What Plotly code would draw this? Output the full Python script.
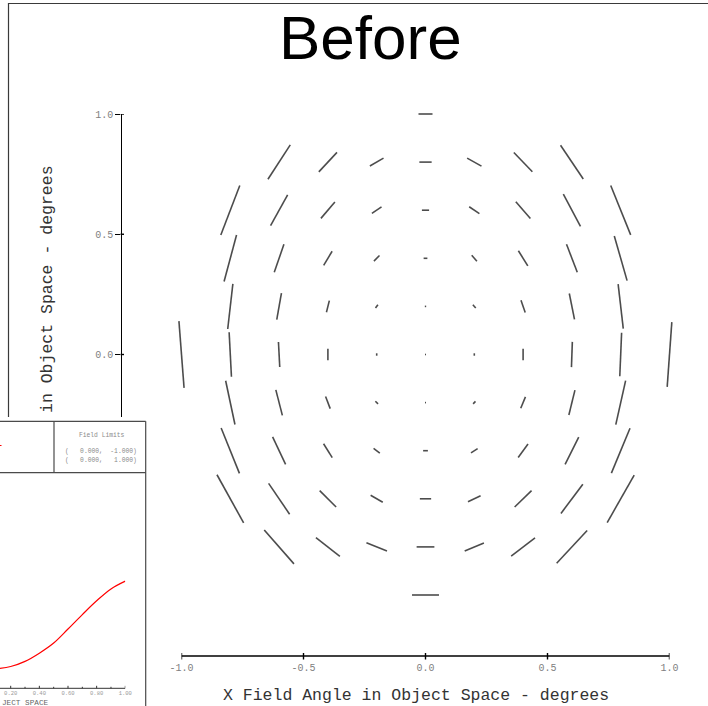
import plotly.graph_objects as go

W, H = 708, 706


def px(x):
    return x / W


def py(y):
    return 1 - y / H


# ---------------------------------------------------------------------------
# Field map: one line segment per field point (X, Y field angle in degrees).
# seg_len   : segment length in field degrees
# seg_angle : segment orientation, degrees counter-clockwise from +X
# ---------------------------------------------------------------------------
field_x = [
    0.0,                                                   # Y = 1.0
    -0.6, -0.4, -0.2, 0.0, 0.2, 0.4, 0.6,                  # Y = 0.8
    -0.8, -0.6, -0.4, -0.2, 0.0, 0.2, 0.4, 0.6, 0.8,       # Y = 0.6
    -0.8, -0.6, -0.4, -0.2, 0.0, 0.2, 0.4, 0.6, 0.8,       # Y = 0.4
    -0.8, -0.6, -0.4, -0.2, 0.0, 0.2, 0.4, 0.6, 0.8,       # Y = 0.2
    -1.0, -0.8, -0.6, -0.4, -0.2, 0.0, 0.2, 0.4, 0.6, 0.8, 1.0,  # Y = 0.0
    -0.8, -0.6, -0.4, -0.2, 0.0, 0.2, 0.4, 0.6, 0.8,       # Y = -0.2
    -0.8, -0.6, -0.4, -0.2, 0.0, 0.2, 0.4, 0.6, 0.8,       # Y = -0.4
    -0.8, -0.6, -0.4, -0.2, 0.0, 0.2, 0.4, 0.6, 0.8,       # Y = -0.6
    -0.6, -0.4, -0.2, 0.0, 0.2, 0.4, 0.6,                  # Y = -0.8
    0.0,                                                   # Y = -1.0
]
field_y = (
    [1.0]
    + [0.8] * 7
    + [0.6] * 9
    + [0.4] * 9
    + [0.2] * 9
    + [0.0] * 11
    + [-0.2] * 9
    + [-0.4] * 9
    + [-0.6] * 9
    + [-0.8] * 7
    + [-1.0]
)
seg_len = [
    0.041,
    0.120, 0.078, 0.046, 0.036, 0.048, 0.078, 0.119,
    0.155, 0.103, 0.063, 0.034, 0.021, 0.036, 0.065, 0.107, 0.156,
    0.141, 0.087, 0.048, 0.023, 0.011, 0.023, 0.052, 0.088, 0.136,
    0.133, 0.079, 0.035, 0.012, 0.004, 0.013, 0.038, 0.077, 0.131,
    0.196, 0.130, 0.073, 0.034, 0.007, 0.003, 0.007, 0.033, 0.074, 0.127, 0.190,
    0.131, 0.077, 0.038, 0.011, 0.003, 0.010, 0.036, 0.075, 0.132,
    0.143, 0.089, 0.048, 0.023, 0.014, 0.023, 0.049, 0.089, 0.142,
    0.161, 0.109, 0.068, 0.041, 0.033, 0.041, 0.069, 0.107, 0.160,
    0.132, 0.089, 0.065, 0.052, 0.061, 0.088, 0.131,
    0.079,
]
seg_angle = [
    0.0,
    57.0, 47.0, 30.0, 0.0, -29.0, -46.0, -56.0,
    69.0, 61.0, 49.5, 34.0, 0.0, -34.0, -49.0, -62.0, -68.0,
    75.0, 71.0, 59.0, 45.0, 0.0, -49.0, -58.0, -69.0, -74.0,
    83.5, 80.0, 76.0, 54.0, 0.0, -49.0, -71.0, -78.6, -83.4,
    94.4, 93.0, 93.0, 90.0, 90.0, 0.0, 90.0, 90.0, 88.0, 87.6, 85.9,
    102.0, 104.4, 111.0, 135.0, 0.0, 47.0, 67.5, 76.3, 77.4,
    112.0, 115.3, 122.0, 142.5, 0.0, 32.6, 54.0, 63.4, 67.4,
    119.0, 124.3, 135.0, 150.0, 0.0, 25.7, 44.2, 53.2, 60.4,
    131.2, 142.0, 157.8, 0.0, 22.6, 37.4, 47.0,
    0.0,
]

axis_ticks = [-1.0, -0.5, 0.0, 0.5, 1.0]
axis_tick_text = ["-1.0", "-0.5", "0.0", "0.5", "1.0"]

# ---------------------------------------------------------------------------
# Small overlaid panel: red curve against relative field
# ---------------------------------------------------------------------------
inset_field = [0.1, 0.2, 0.3, 0.4, 0.5, 0.6, 0.7, 0.8, 0.9, 1.0]
inset_value = [0.090, 0.101, 0.125, 0.163, 0.210, 0.275, 0.342, 0.406, 0.461, 0.497]
inset_ticks = [0.2, 0.4, 0.6, 0.8, 1.0]
inset_minor_ticks = [0.3, 0.5, 0.7, 0.9]
inset_tick_text = ["0.20", "0.40", "0.60", "0.80", "1.00"]
field_limits = [(0.0, -1.0), (0.0, 1.0)]

MONO = "Liberation Mono, Courier New, monospace"
SANS = "Liberation Sans, Arial, sans-serif"

# main field-map geometry, in page pixels
X_LEFT, X_RIGHT = 181.5, 669.5      # x = -1 .. +1
Y_TOP, Y_MINUS1 = 114.0, 595.0      # y = +1 .. -1
X_AXIS_Y = 656.0                    # x-axis line sits below the field
Y_AXIS_X = 120.5                    # y-axis line sits left of the field

main_range_x = [-1.0, 1.0]
px_per_deg = (X_RIGHT - X_LEFT) / (main_range_x[1] - main_range_x[0])
py_per_deg = (Y_MINUS1 - Y_TOP) / 2.0
main_range_y = [-1.0 - (X_AXIS_Y - Y_MINUS1) / py_per_deg, 1.0]

# overlaid panel geometry, in page pixels
INSET_AXIS_Y = 688.3
inset_range_x = [0.1253, 1.0]

fig = go.Figure()

# placeholder subplot sitting under the overlaid panel
fig.add_trace(go.Scatter(x=[], y=[], xaxis="x", yaxis="y",
                         showlegend=False, hoverinfo="skip"))

# field map segments, drawn as rotated line markers centred on each field point
fig.add_trace(go.Scatter(
    x=field_x, y=field_y, xaxis="x2", yaxis="y2",
    mode="markers", cliponaxis=False, showlegend=False, hoverinfo="skip",
    marker=dict(
        symbol="line-ns-open",
        size=[max(v * px_per_deg, 0.6) for v in seg_len],
        angle=[90.0 - a for a in seg_angle],
        color="#000000",
        line=dict(width=1.6, color="#000000"),
    ),
))

# white backing for the overlaid panel
fig.add_trace(go.Scatter(x=[], y=[], xaxis="x3", yaxis="y3",
                         showlegend=False, hoverinfo="skip"))

# overlaid panel curve
fig.add_trace(go.Scatter(
    x=inset_field, y=inset_value, xaxis="x4", yaxis="y4",
    mode="lines", line=dict(color="#ff0000", width=1.2, shape="spline"),
    showlegend=False, hoverinfo="skip",
))

hidden = dict(showline=False, showgrid=False, zeroline=False, ticks="",
              showticklabels=False, fixedrange=True, automargin=False)

fig.update_layout(
    width=W, height=H,
    margin=dict(l=0, r=0, t=0, b=0),
    paper_bgcolor="white", plot_bgcolor="white",
    showlegend=False,
    font=dict(family=MONO, color="#222222"),
    xaxis=dict(domain=[0.0, 0.2], range=[0, 1], anchor="y", **hidden),
    yaxis=dict(domain=[0.0, 0.4], range=[0, 1], anchor="x", **hidden),
    xaxis2=dict(
        domain=[px(X_LEFT), px(X_RIGHT)], range=main_range_x, anchor="y2",
        showline=False, ticks="outside", ticklen=2, tickcolor="rgba(0,0,0,0)",
        tickvals=axis_ticks, ticktext=axis_tick_text,
        tickfont=dict(family=MONO, size=10, color="#808080"),
        showgrid=False, zeroline=False, automargin=False,
    ),
    yaxis2=dict(
        domain=[py(X_AXIS_Y), py(Y_TOP)], range=main_range_y,
        anchor="free", position=px(Y_AXIS_X),
        showline=True, linecolor="#000000", linewidth=1.4,
        ticks="outside", ticklen=5, tickwidth=1.4, tickcolor="#000000",
        tickvals=axis_ticks, ticktext=axis_tick_text,
        tickfont=dict(family=MONO, size=10, color="#808080"),
        showgrid=False, zeroline=False, automargin=False,
    ),
    xaxis3=dict(domain=[0.0, px(150)], range=[0, 1], anchor="y3", **hidden),
    yaxis3=dict(domain=[0.0, py(417)], range=[0, 1], anchor="x3", **hidden),
    xaxis4=dict(
        domain=[0.0, px(125.3)], range=inset_range_x, anchor="y4",
        showline=False, ticks="",
        tickvals=inset_ticks, ticktext=inset_tick_text,
        tickfont=dict(family=MONO, size=5.5, color="#999999"),
        showgrid=False, zeroline=False, fixedrange=True, automargin=False,
    ),
    yaxis4=dict(domain=[py(INSET_AXIS_Y), py(472.7)], range=[0, 1], anchor="x4",
                **hidden),
)

shapes = [
    # outer frame of the field map page
    dict(type="rect", xref="paper", yref="paper", layer="below",
         x0=px(8.5), x1=1.05, y0=-0.05, y1=py(3.5),
         line=dict(color="#3a3a3a", width=1.2), fillcolor="rgba(0,0,0,0)"),
]

# main x-axis: baseline across the field range plus ticks crossing it
axis_line = dict(color="#000000", width=1.4)
shapes.append(dict(type="line", xref="x2", yref="paper", layer="above",
                   x0=main_range_x[0], x1=main_range_x[1],
                   y0=py(X_AXIS_Y), y1=py(X_AXIS_Y), line=axis_line))
for v in axis_ticks:
    shapes.append(dict(type="line", xref="x2", yref="paper", layer="above",
                       x0=v, x1=v, y0=py(X_AXIS_Y - 3), y1=py(X_AXIS_Y + 3.5),
                       line=axis_line))
# y-axis ticks also reach a little past the line, toward the field
# (kept on the lower layer so the overlaid panel hides them)
for v in axis_ticks:
    shapes.append(dict(type="line", xref="paper", yref="y2", layer="below",
                       x0=px(Y_AXIS_X), x1=px(Y_AXIS_X + 3.5), y0=v, y1=v,
                       line=axis_line))

# overlaid panel x-axis: baseline with inward major and minor ticks
inset_line = dict(color="#333333", width=1)
shapes.append(dict(type="line", xref="x4", yref="paper", layer="above",
                   x0=inset_range_x[0], x1=inset_range_x[1],
                   y0=py(INSET_AXIS_Y), y1=py(INSET_AXIS_Y), line=inset_line))
for v in inset_ticks:
    shapes.append(dict(type="line", xref="x4", yref="paper", layer="above",
                       x0=v, x1=v, y0=py(INSET_AXIS_Y), y1=py(INSET_AXIS_Y - 2.5),
                       line=inset_line))
for v in inset_minor_ticks:
    shapes.append(dict(type="line", xref="x4", yref="paper", layer="above",
                       x0=v, x1=v, y0=py(INSET_AXIS_Y), y1=py(INSET_AXIS_Y - 1.5),
                       line=inset_line))

frame = dict(color="#4a4a4a", width=1.2)
for (x0, y0, x1, y1) in [
    (-5, 421.3, 145.7, 421.3),    # panel top
    (-5, 472.7, 145.7, 472.7),    # header bottom
    (54, 421.3, 54, 472.7),       # header divider
    (145.7, 421.3, 145.7, 720),   # panel right edge
]:
    shapes.append(dict(type="line", xref="paper", yref="paper", layer="above",
                       x0=px(x0), x1=px(x1), y0=py(y0), y1=py(y1), line=frame))
# legend stub of the red curve
shapes.append(dict(type="line", xref="paper", yref="paper", layer="above",
                   x0=px(-6), x1=px(1.5), y0=py(445.5), y1=py(445.5),
                   line=dict(color="#ff0000", width=1)))

annotations = [
    dict(text="Before", x=px(370), y=py(38), xref="paper", yref="paper",
         showarrow=False, xanchor="center", yanchor="middle",
         font=dict(family=SANS, size=62, color="#000000")),
    dict(text="X Field Angle in Object Space - degrees",
         x=px(415.5), y=py(695), xref="paper", yref="paper",
         showarrow=False, xanchor="center", yanchor="middle",
         font=dict(family=MONO, size=16.5, color="#333333")),
    dict(text="in Object Space - degrees", textangle=-90,
         x=px(48), y=py(289), xref="paper", yref="paper",
         showarrow=False, xanchor="center", yanchor="middle",
         font=dict(family=MONO, size=16.5, color="#333333")),
    dict(text="Field Limits", x=px(102), y=py(435.3), xref="paper", yref="paper",
         showarrow=False, xanchor="center", yanchor="middle",
         font=dict(family=MONO, size=6.3, color="#8a8a8a")),
    dict(text="JECT SPACE", x=px(-0.5), y=py(702.5), xref="paper", yref="paper",
         showarrow=False, xanchor="left", yanchor="middle",
         font=dict(family=MONO, size=7.7, color="#666666")),
]
NBSP = "\u00a0"
for i, (fx, fy) in enumerate(field_limits):
    label = "(" + NBSP * 3 + f"{fx:.3f}," + f"{fy:.3f})".rjust(9, NBSP)
    annotations.append(dict(
        text=label, x=px(63), y=py(451.3 + 9 * i), xref="paper", yref="paper",
        showarrow=False, xanchor="left", yanchor="middle",
        font=dict(family=MONO, size=6.3, color="#8a8a8a")))

fig.update_layout(shapes=shapes, annotations=annotations)

fig.write_html("out.html")
